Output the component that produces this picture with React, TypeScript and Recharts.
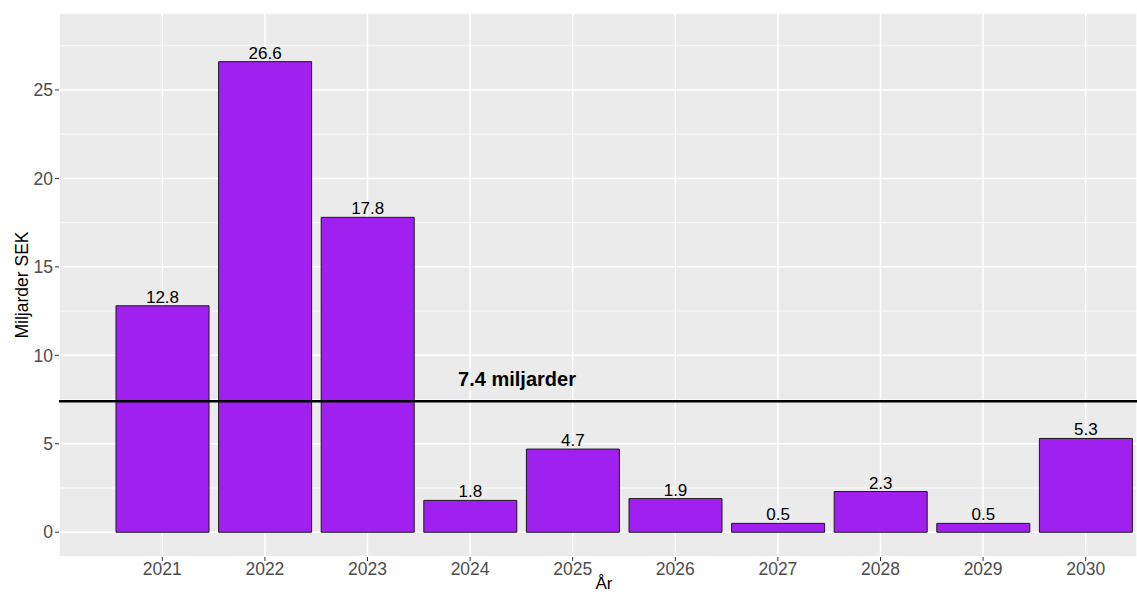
import React from 'react';
import {
  BarChart,
  Bar,
  XAxis,
  YAxis,
  CartesianGrid,
  ReferenceLine,
  LabelList
} from 'recharts';

// Värden
const years = ['2021', '2022', '2023', '2024', '2025', '2026', '2027', '2028', '2029', '2030'];
const values = [12.8, 26.6, 17.8, 1.8, 4.7, 1.9, 0.5, 2.3, 0.5, 5.3];
const yTicks = [0, 5, 10, 15, 20, 25];
const yMinorTicks = [2.5, 7.5, 12.5, 17.5, 22.5, 27.5];
const averageValue = 7.4;
const averageLabel = '7.4 miljarder';

const data = years.map((year, i) => ({ year, value: values[i] }));

const FONT = '"Liberation Sans", Arial, sans-serif';
const Y_DOMAIN: [number, number] = [-1.4, 29.35];

export default function App() {
  return (
    <div style={{ position: 'absolute', left: 0, top: 0, background: '#fff', fontFamily: FONT }}>
      <BarChart
        width={1137}
        height={593}
        data={data}
        margin={{ top: 13, right: 0, left: 0, bottom: 0 }}
        barSize={93}
      >
        {/* mindre rutnät via en dold axel */}
        <CartesianGrid
          yAxisId="minor"
          fill="#EBEBEB"
          stroke="#FFFFFF"
          strokeWidth={0.8}
          vertical={false}
        />
        <CartesianGrid stroke="#FFFFFF" strokeWidth={1.5} />
        <XAxis
          dataKey="year"
          height={36}
          padding={{ left: 52, right: 0 }}
          axisLine={false}
          tickLine={{ stroke: '#333333', strokeWidth: 1 }}
          tickSize={4}
          tickMargin={2}
          tick={{ fill: '#4D4D4D', fontSize: 17.5, fontFamily: FONT }}
          label={{
            content: () => (
              <text x={604} y={589} textAnchor="middle" fill="#000" fontSize={17} fontFamily={FONT}>
                År
              </text>
            )
          }}
        />
        <YAxis
          width={59}
          domain={Y_DOMAIN}
          ticks={yTicks}
          allowDataOverflow
          axisLine={false}
          tickLine={{ stroke: '#333333', strokeWidth: 1 }}
          tickSize={4}
          tickMargin={2}
          tick={{ fill: '#4D4D4D', fontSize: 17.5, fontFamily: FONT }}
          label={{
            content: ({ viewBox }: any) => {
              const cy = viewBox.y + viewBox.height / 2;
              return (
                <text
                  x={28}
                  y={cy}
                  transform={`rotate(-90, 28, ${cy})`}
                  textAnchor="middle"
                  fill="#000"
                  fontSize={17.5}
                  fontFamily={FONT}
                >
                  Miljarder SEK
                </text>
              );
            }
          }}
        />
        <YAxis
          yAxisId="minor"
          hide
          width={0}
          domain={Y_DOMAIN}
          ticks={yMinorTicks}
          allowDataOverflow
        />
        <Bar dataKey="value" fill="#A020F0" stroke="#1a1a1a" strokeWidth={1} isAnimationActive={false}>
          <LabelList
            dataKey="value"
            position="top"
            offset={3}
            fill="#000"
            fontSize={17}
            fontFamily={FONT}
            formatter={(v: any) => Number(v).toFixed(1)}
          />
        </Bar>
        <ReferenceLine
          y={averageValue}
          stroke="#000"
          strokeWidth={2.5}
          label={{
            content: ({ viewBox }: any) => (
              <text
                x={517}
                y={viewBox.y - 15}
                textAnchor="middle"
                fill="#000"
                fontSize={20}
                fontWeight="bold"
                fontFamily={FONT}
              >
                {averageLabel}
              </text>
            )
          }}
        />
      </BarChart>
    </div>
  );
}
